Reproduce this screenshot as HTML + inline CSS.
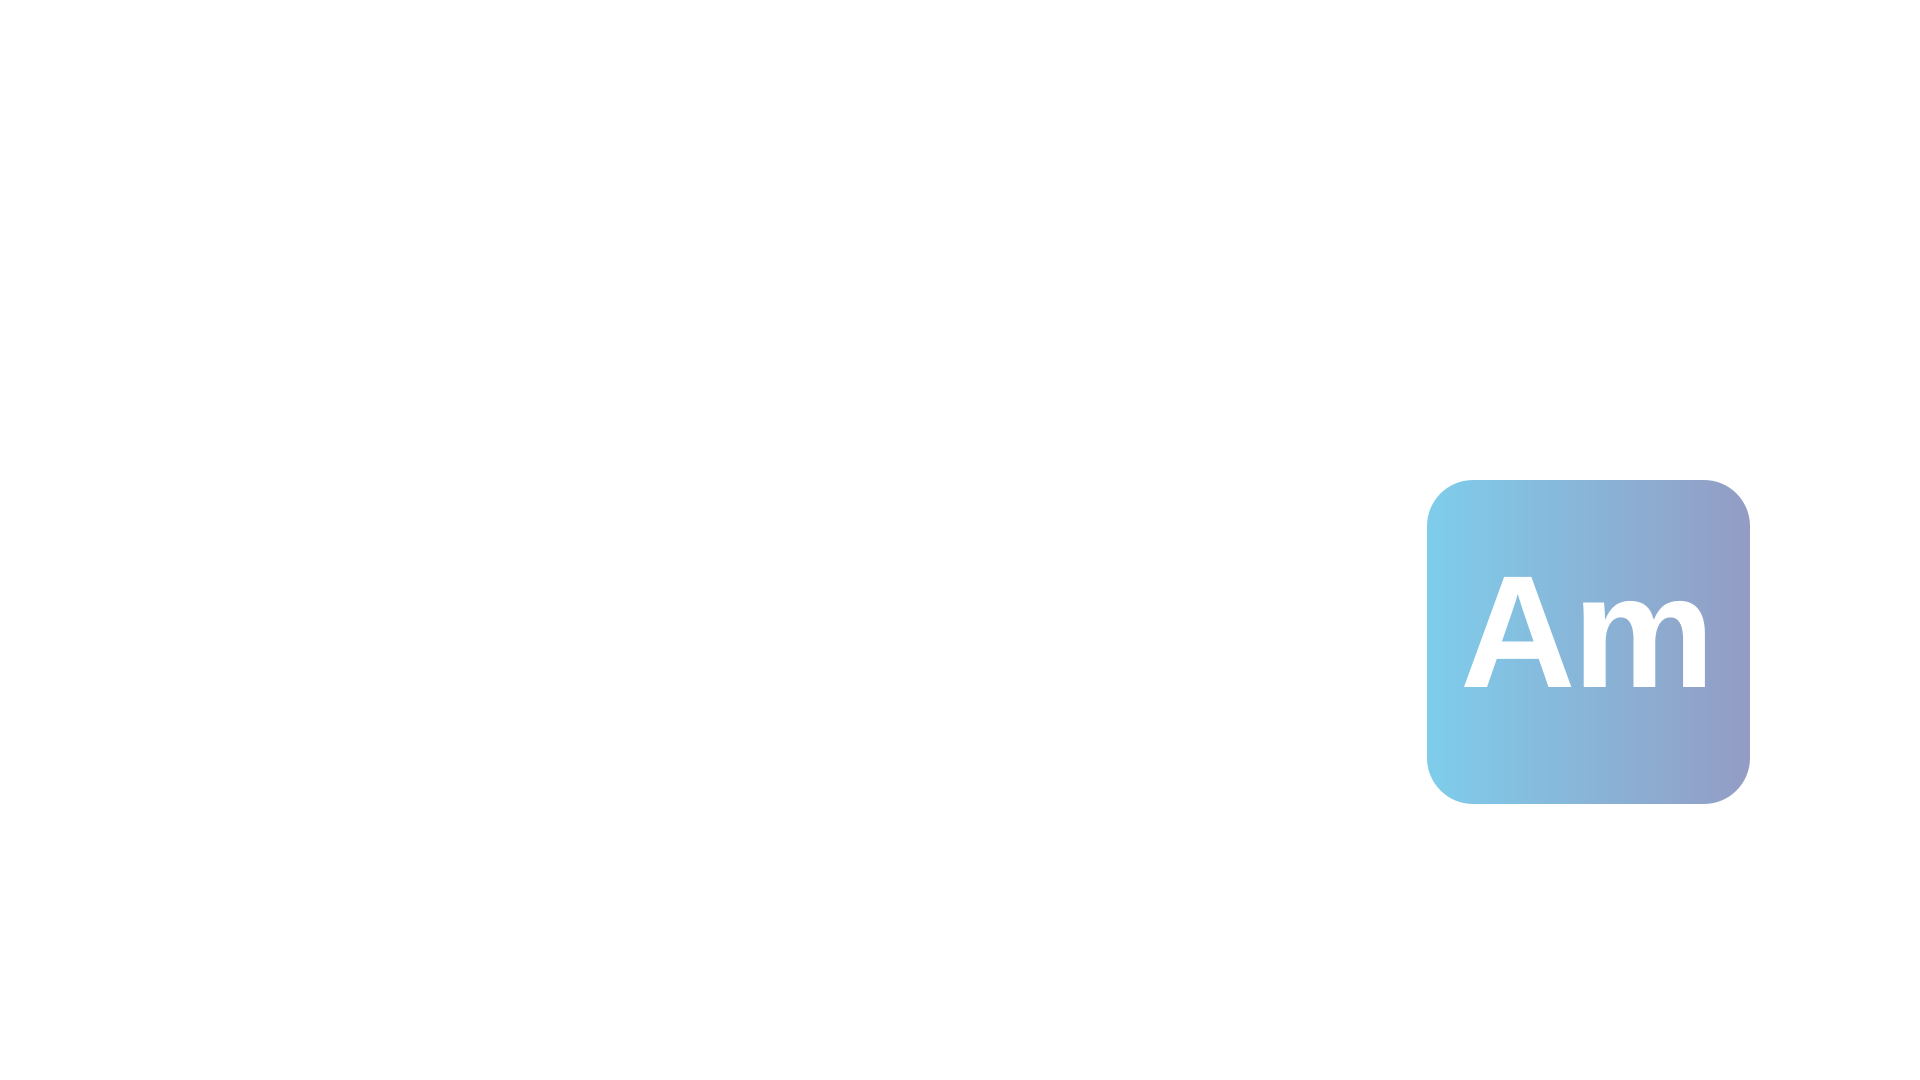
<!DOCTYPE html>
<html><head><style>
html,body{margin:0;padding:0;width:1920px;height:1080px;background:#fff;overflow:hidden}
.box{position:absolute;left:1427px;top:480px;width:323px;height:324px;border-radius:46px;background:linear-gradient(to right,#7ecdeb,#939cc4)}
.t{position:absolute;left:1460px;top:0;font-family:"Liberation Sans",sans-serif;font-weight:bold;font-size:160px;color:#fff;line-height:1;letter-spacing:-3px}
</style></head><body>
<div class="box"></div>
<div class="t" style="top:552px">Am</div>
</body></html>
